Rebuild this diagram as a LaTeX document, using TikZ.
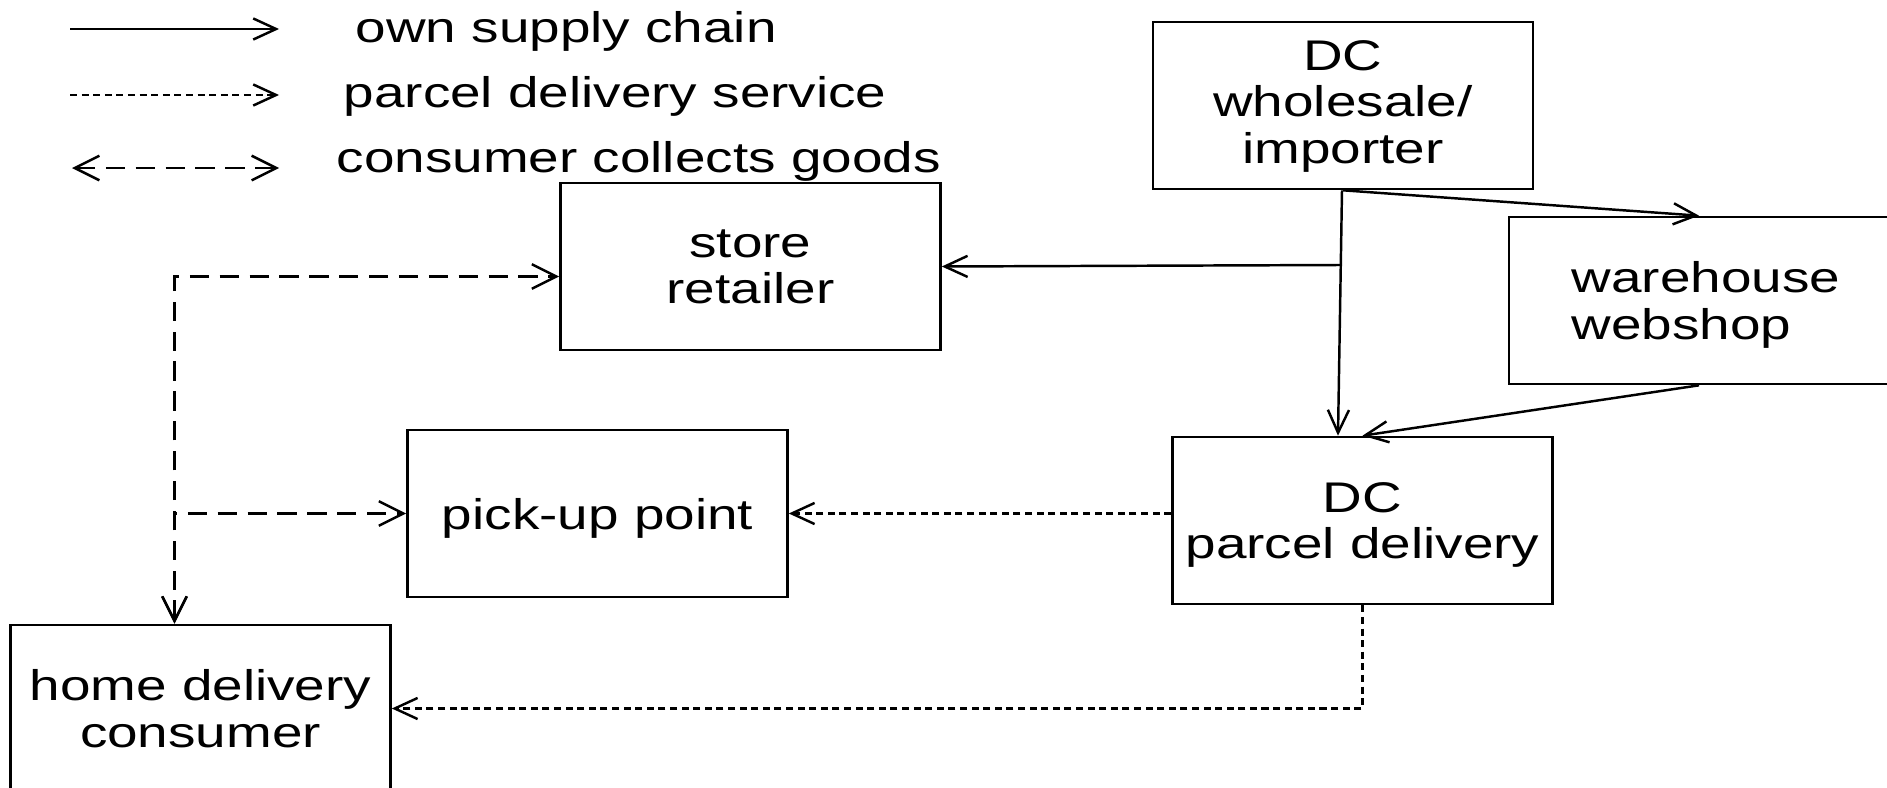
\documentclass[tikz,border=0pt]{standalone}
\usepackage{fontspec}
\setmainfont[FakeStretch=1.28]{Liberation Sans}
\usetikzlibrary{arrows.meta}
\begin{document}
\begin{tikzpicture}[
  box/.style={draw, line width=0.75pt, minimum width=3.8cm, minimum height=1.67cm, align=center, inner sep=2pt, text depth=-1pt, font=\fontsize{12.2}{13.2}\selectfont},
  legend/.style={anchor=west, inner sep=0pt, font=\fontsize{12.2}{13.2}\selectfont},
  own/.style={-{Straight Barb[length=6.5pt,width=6pt]}, line width=0.7pt},
  parcel/.style={own, dash pattern=on 2pt off 1.3pt},
  collect/.style={{Straight Barb[length=7pt,width=7pt]}-{Straight Barb[length=7pt,width=7pt]}, line width=0.7pt, dash pattern=on 5.5pt off 3pt}
]
\useasboundingbox (0,0) rectangle (18.87,-7.88);
\node[box, text depth=2pt] (dcw) at (13.43,-1.055) {DC\\wholesale/\\importer};
\node[box] (store) at (7.505,-2.665) {store\\retailer};
\node[box, align=left, minimum width=3.94cm] (shop) at (17.06,-3.005) {warehouse\\webshop};
\node[box] (dcp) at (13.625,-5.205) {DC\\parcel delivery};
\node[box, text depth=-2pt] (pickup) at (5.975,-5.135) {pick-up point};
\node[box] (home) at (2.005,-7.085) {home delivery\\consumer};

\coordinate (l1a) at (0.70,-0.29);
\coordinate (l1b) at (2.79,-0.29);
\coordinate (l2a) at (0.70,-0.95);
\coordinate (l2b) at (2.79,-0.95);
\coordinate (l3a) at (0.72,-1.68);
\coordinate (l3b) at (2.79,-1.68);
\draw[own] (l1a) -- (l1b);
\draw[parcel] (l2a) -- (l2b);
\draw[collect] (l3a) -- (l3b);
\node[legend] (lown) at (3.55,-0.31) {own supply chain};
\node[legend] (lparcel) at (3.43,-0.96) {parcel delivery service};
\node[legend] (lcollect) at (3.36,-1.61) {consumer collects goods};

\coordinate (split) at (13.41,-2.65);
\draw[own] ([xshift=-0.01cm]dcw.south) -- ([xshift=-0.245cm]dcp.north);
\draw[own] (split) -- (store.east);
\draw[own] (dcw.south) -- ([xshift=-0.07cm]shop.north);
\draw[own] ([xshift=-0.07cm]shop.south) -- (dcp.north);
\draw[parcel] (dcp.west |- pickup.east) -- (pickup.east);
\draw[parcel] (dcp.south) |- (home.east);
\draw[collect] ([xshift=-0.26cm]home.north) |- ([yshift=-0.1cm]store.west);
\draw[collect] ([xshift=-0.26cm]home.north) |- (pickup.west);
\end{tikzpicture}
\end{document}
